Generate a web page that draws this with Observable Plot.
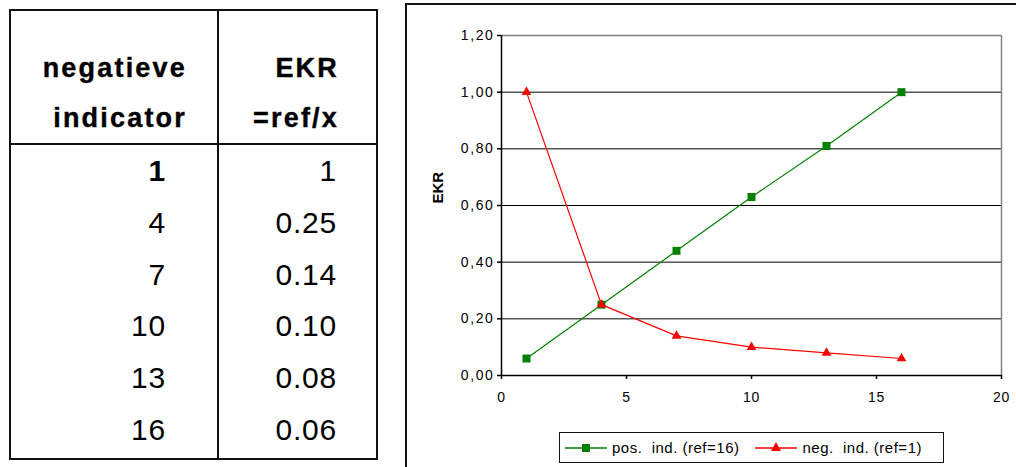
<!DOCTYPE html>
<html>
<head>
<meta charset="utf-8">
<script src="https://cdn.jsdelivr.net/npm/d3@7"></script>
<script src="https://cdn.jsdelivr.net/npm/@observablehq/plot@0.6"></script>
<style>
  html, body { margin: 0; padding: 0; background: #fff; width: 1016px; height: 467px; overflow: hidden; }
  body { position: relative; font-family: "Liberation Sans", Arial, sans-serif; color: #000; }
  #tbl { position: absolute; left: 9px; top: 9px; width: 365px; height: 447px; border: 2px solid #111; }
  #tbl .vdiv { position: absolute; left: 206px; top: 0; width: 2px; height: 100%; background: #111; }
  #tbl .hdiv { position: absolute; left: 0; top: 132px; height: 2px; width: 100%; background: #111; }
  .cell { position: absolute; text-align: right; white-space: pre; line-height: 1; }
  .hdr { font-weight: bold; font-size: 27px; letter-spacing: 2.2px; -webkit-text-stroke: 0.4px #000; }
  .num { font-size: 30px; letter-spacing: 0.8px; }
  #panel { position: absolute; left: 405px; top: 3px; width: 700px; height: 600px; border-left: 2px solid #111; border-top: 2px solid #111; }
  #chart { position: absolute; left: 407px; top: 5px; }
  #legend { position: absolute; left: 559px; top: 432px; width: 385px; height: 31px; border: 1.5px solid #111; box-sizing: border-box; display: flex; align-items: center; font-size: 15px; white-space: pre; letter-spacing: 0.5px; }
  #legend .item { display: flex; align-items: center; }
  #legend svg { display: block; }
</style>
</head>
<body>
<div id="tbl"><div class="vdiv"></div><div class="hdiv"></div></div>
<div id="panel"></div>
<div id="chart"></div>
<div id="legend"></div>
<script>
// ---- data ----
const headerCol1 = ["negatieve", "indicator"];
const headerCol2 = ["EKR", "=ref/x"];
const indicator = [1, 4, 7, 10, 13, 16];
const ekrLabels = ["1", "0.25", "0.14", "0.10", "0.08", "0.06"];
const ekrNeg = [1.00, 0.25, 0.14, 0.10, 0.08, 0.06];
const ekrPos = [0.06, 0.25, 0.44, 0.63, 0.81, 1.00];
const seriesNames = ["pos.  ind. (ref=16)", "neg.  ind. (ref=1)"];
const seriesColors = ["#008000", "#ff0000"];
const seriesSymbols = ["square", "triangle"];
const xTicks = [0, 5, 10, 15, 20];
const yTicks = [0, 0.2, 0.4, 0.6, 0.8, 1.0, 1.2];
const yGrid = [0.2, 0.4, 0.6, 0.8, 1.0];
const yLabel = "EKR";

// ---- table ----
const tbl = document.getElementById("tbl");
function addCell(text, cls, right, baseline, fs, bold) {
  const d = document.createElement("div");
  d.className = "cell " + cls;
  d.textContent = text;
  d.style.right = (376 - right) + "px";
  d.style.top = (baseline - 11 - fs * 0.905) + "px";
  if (bold) d.style.fontWeight = "bold";
  tbl.appendChild(d);
}
const hdrBase = [79, 129];
headerCol1.forEach((t, i) => addCell(t, "hdr", 187, hdrBase[i], 27));
headerCol2.forEach((t, i) => addCell(t, "hdr", 339, hdrBase[i], 27));
const rowBase = [183, 235, 287, 338, 390, 442];
indicator.forEach((v, i) => addCell(String(v), "num", 166, rowBase[i], 30, i === 0));
ekrLabels.forEach((t, i) => addCell(t, "num", 337, rowBase[i], 30));

// ---- chart ----
const rows = [];
indicator.forEach((x, i) => rows.push({x, y: ekrPos[i], s: seriesNames[0]}));
indicator.forEach((x, i) => rows.push({x, y: ekrNeg[i], s: seriesNames[1]}));
const pos = rows.filter(d => d.s === seriesNames[0]);
const neg = rows.filter(d => d.s === seriesNames[1]);
const fmt = d => d.toFixed(2).replace(".", ",");

const chart = Plot.plot({
  width: 609,
  height: 420,
  marginLeft: 94,
  marginRight: 15,
  marginTop: 30,
  marginBottom: 50,
  style: {fontFamily: "'Liberation Sans', Arial, sans-serif", fontSize: "14px", color: "#000", background: "transparent", overflow: "visible"},
  x: {domain: [0, 20]},
  y: {domain: [0, 1.2]},
  marks: [
    Plot.ruleY(yGrid, {stroke: "#000", strokeWidth: 1}),
    Plot.ruleY([1.2], {stroke: "#808080", strokeWidth: 1.5}),
    Plot.ruleX([20], {stroke: "#808080", strokeWidth: 1.5}),
    Plot.axisY({ticks: yTicks, tickFormat: fmt, tickSize: 4, tickPadding: 3, label: null, stroke: "#000", strokeWidth: 1.5}),
    Plot.axisX({ticks: xTicks, tickSize: 4, tickPadding: 13, label: null, stroke: "#000", strokeWidth: 1.5}),
    Plot.ruleY([0], {stroke: "#000", strokeWidth: 1.5}),
    Plot.ruleX([0], {stroke: "#000", strokeWidth: 1.5}),
    Plot.text([yLabel], {frameAnchor: "left", dx: -63, dy: -2, rotate: -90, fontWeight: "bold"}),
    Plot.line(pos, {x: "x", y: "y", stroke: seriesColors[0], strokeWidth: 1.2}),
    Plot.line(neg, {x: "x", y: "y", stroke: seriesColors[1], strokeWidth: 1.2}),
    Plot.dot(pos, {x: "x", y: "y", symbol: seriesSymbols[0], fill: seriesColors[0], r: 4.5, stroke: "none"}),
    Plot.dot(neg, {x: "x", y: "y", symbol: seriesSymbols[1], fill: seriesColors[1], r: 3.6, stroke: "none"})
  ]
});
const sel = d3.select(chart);
sel.selectAll("g[aria-label='y-axis tick label'] text").style("font-size", "14px").style("letter-spacing", "1.6px");
sel.selectAll("g[aria-label='x-axis tick label'] text").style("font-size", "14px").style("letter-spacing", "0.6px");
sel.selectAll("g[aria-label='text'] text").style("font-size", "15px").style("font-weight", "bold");
document.getElementById("chart").appendChild(chart);

// ---- legend ----
const legend = document.getElementById("legend");
seriesNames.forEach((name, i) => {
  const item = document.createElement("div");
  item.className = "item";
  item.style.marginLeft = i === 0 ? "5px" : "16px";
  const sw = d3.create("svg").attr("width", 42).attr("height", 14);
  sw.append("line").attr("x1", 0).attr("x2", 42).attr("y1", 7).attr("y2", 7).attr("stroke", seriesColors[i]).attr("stroke-width", 1.5);
  sw.append("path").attr("transform", "translate(21,7)")
    .attr("d", d3.symbol(i === 0 ? d3.symbolSquare : d3.symbolTriangle, i === 0 ? 64 : 45)())
    .attr("fill", seriesColors[i]);
  item.appendChild(sw.node());
  const t = document.createElement("span");
  t.textContent = name;
  t.style.marginLeft = "5px";
  item.appendChild(t);
  legend.appendChild(item);
});
</script>
</body>
</html>
